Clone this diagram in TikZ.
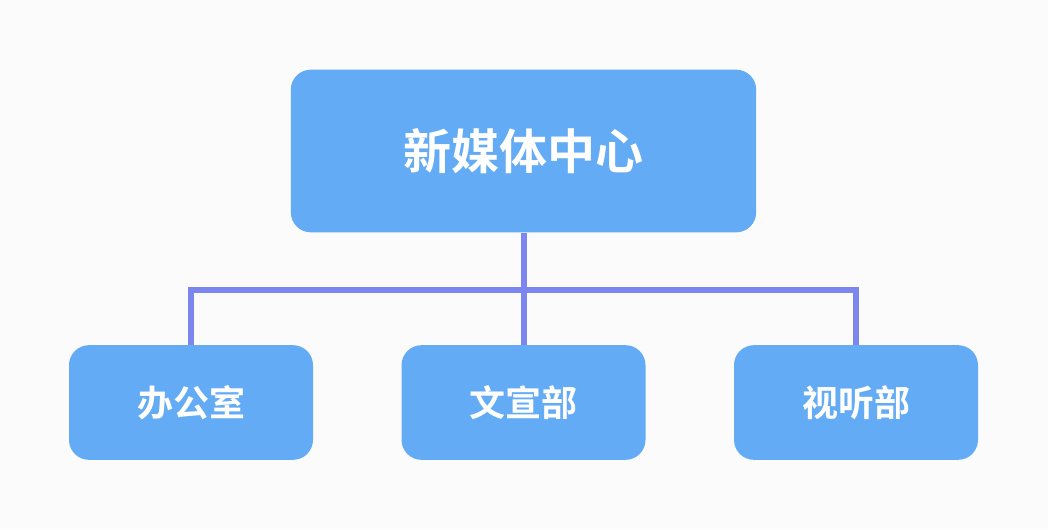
\documentclass[tikz,border=0pt]{standalone}
\usepackage{fontspec}
\setmainfont{Noto Sans CJK SC}
\newfontfamily\cjk{Noto Sans CJK SC Bold}
\usetikzlibrary{positioning}
\definecolor{boxblue}{RGB}{99,171,245}
\definecolor{linkblue}{RGB}{123,134,238}
\definecolor{bgwhite}{RGB}{251,251,251}
\tikzset{
  unit/.style={draw=none, fill=boxblue, rounded corners=15pt, text=white, font=\cjk\fontsize{27}{30}\selectfont, minimum width=183pt, minimum height=86pt},
  link/.style={draw=linkblue, line width=4.5pt}
}
\begin{document}
\begin{tikzpicture}[x=0.75pt,y=0.75pt,yscale=-1,xscale=1]
\fill[bgwhite] (0,0) rectangle (1048,529);
\useasboundingbox (0,0) rectangle (1048,529);

% centre box
\node[unit, minimum width=349pt, minimum height=122pt, font=\cjk\fontsize{36}{40}\selectfont] (center) at (523.5,151) {新媒体中心};

% departments
\node[unit] (office) at (191,402.5) {办公室};
\node[unit] (publicity) at (523.5,402.5) {文宣部};
\node[unit] (media) at (856,402.5) {视听部};

% connectors
\coordinate (bus) at (523.5,290);
\draw[link] (center.south) -- (bus);
\draw[link, line join=miter] (office.north) |- (bus) -| (media.north);
\draw[link] (bus) -- (publicity.north);
\end{tikzpicture}
\end{document}
